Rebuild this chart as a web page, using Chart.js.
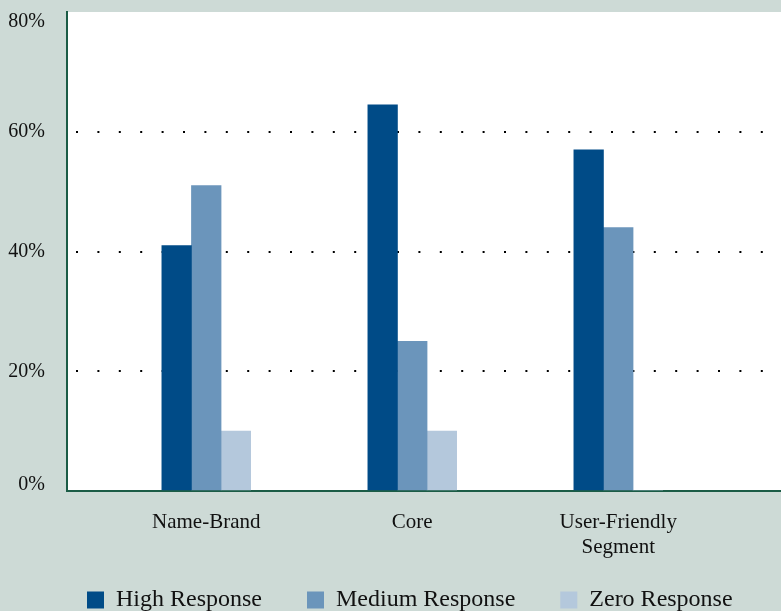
<!DOCTYPE html>
<html>
<head>
<meta charset="utf-8">
<script src="https://cdn.jsdelivr.net/npm/chart.js@4"></script>
<style>
  html, body { margin: 0; padding: 0; background: #cddad6; overflow: hidden; }
  #wrap { width: 781px; height: 611px; overflow: hidden; }
  #box { position: relative; width: 781px; height: 622px; }
</style>
</head>
<body>
<div id="wrap"><div id="box"><canvas id="chart"></canvas></div></div>
<script>
// Response levels by segment (percent of respondents)
const categories = ['Name-Brand', 'Core', ['User-Friendly', 'Segment']];
const seriesNames = ['High Response', 'Medium Response', 'Zero Response'];
const highResponse = [41, 64.5, 57];
const mediumResponse = [51, 25, 44];
const zeroResponse = [10, 10, 0];
const yTicks = [0, 20, 40, 60, 80];

const seriesColors = ['#004b87', '#6b95bb', '#b4c8dc'];
const axisGreen = '#1b5c46';
const serif = "'Liberation Serif', 'Times New Roman', serif";

const toPoints = values => values.map((v, i) => ({ x: i, y: v }));
const seriesValues = [highResponse, mediumResponse, zeroResponse];

// White plot panel; value-axis labels are right-aligned 22px left of the axis
// and the end labels are kept inside the panel height
const plotPanel = {
  id: 'plotPanel',
  beforeDraw(chart) {
    const { ctx, chartArea: a } = chart;
    ctx.save();
    ctx.fillStyle = '#ffffff';
    ctx.fillRect(a.left, a.top, a.right - a.left, a.bottom - a.top);
    ctx.restore();
    chart.scales.y.getLabelItems().forEach(item => {
      if (item.$placed) return;
      item.$placed = true;
      const t = item.options.translation;
      item.options.textAlign = 'right';
      t[0] = a.left - 22;
      t[1] = Math.min(Math.max(t[1], a.top + 10), a.bottom - 6);
    });
  }
};

new Chart(document.getElementById('chart'), {
  type: 'bar',
  data: {
    datasets: seriesNames.map((name, k) => ({
      label: name,
      data: toPoints(seriesValues[k]),
      backgroundColor: seriesColors[k],
      borderWidth: 0,
      barThickness: 29.6
    }))
  },
  options: {
    responsive: true,
    maintainAspectRatio: false,
    animation: false,
    layout: { padding: { top: 12, left: 42, right: 0, bottom: 0 } },
    plugins: {
      legend: {
        position: 'bottom',
        align: 'start',
        labels: {
          boxWidth: 17,
          boxHeight: 17,
          padding: 45,
          color: '#111',
          font: { family: serif, size: 24 }
        }
      },
      tooltip: { enabled: false }
    },
    scales: {
      x: {
        type: 'linear',
        offset: false,
        min: -0.676,
        max: 2.79,
        bounds: 'data',
        grid: { display: false, drawTicks: false },
        border: { color: axisGreen, width: 2 },
        afterBuildTicks: s => { s.ticks = categories.map((c, i) => ({ value: i })); },
        ticks: {
          callback: v => categories[v],
          mirror: true,
          padding: -44.2,
          maxRotation: 0,
          autoSkip: false,
          color: '#111',
          font: { family: serif, size: 21, lineHeight: 1.2 }
        },
        afterFit: s => { s.height = 52; }
      },
      y: {
        min: yTicks[0],
        max: yTicks[yTicks.length - 1],
        afterBuildTicks: s => { s.ticks = yTicks.map(v => ({ value: v })); },
        grid: {
          color: c => (c.tick && c.tick.value > yTicks[0] && c.tick.value < yTicks[yTicks.length - 1]) ? '#000000' : 'transparent',
          lineWidth: 2,
          drawTicks: false
        },
        border: { color: axisGreen, width: 2, dash: [2, 19.4], dashOffset: 13.4 },
        ticks: {
          callback: v => v + '%',
          mirror: true,
          padding: 0,
          color: '#111',
          font: { family: serif, size: 20, lineHeight: 1.2 }
        },
        afterFit: s => { s.width = 25; }
      }
    }
  },
  plugins: [plotPanel]
});
</script>
</body>
</html>
